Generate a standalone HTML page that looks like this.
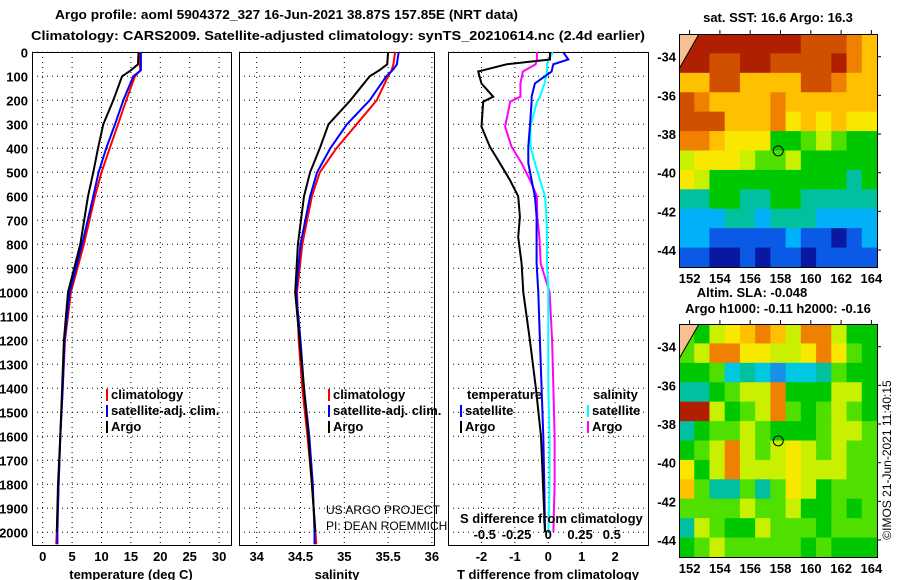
<!DOCTYPE html>
<html><head><meta charset="utf-8">
<style>
body{margin:0;background:#fff;}
svg{display:block;font-family:"Liberation Sans",sans-serif;}
.b{font-weight:bold;font-size:13px;}
</style></head>
<body>
<svg id="c" width="900" height="580" xmlns="http://www.w3.org/2000/svg">
<text class="b" x="55" y="19" font-size="14" textLength="463" lengthAdjust="spacingAndGlyphs">Argo profile: aoml 5904372_327 16-Jun-2021 38.87S 157.85E (NRT data)</text>
<text class="b" x="31" y="40" font-size="14" textLength="614" lengthAdjust="spacingAndGlyphs">Climatology: CARS2009. Satellite-adjusted climatology: synTS_20210614.nc (2.4d earlier)</text>
<text class="b" x="778" y="22" text-anchor="middle" font-size="12">sat. SST: 16.6 Argo: 16.3</text>
<text class="b" x="752" y="297" text-anchor="middle" font-size="12">Altim. SLA: -0.048</text>
<text class="b" x="778" y="313" text-anchor="middle" font-size="12">Argo h1000: -0.11 h2000: -0.16</text>
<text x="891" y="460" font-size="12" text-anchor="middle" transform="rotate(-90 891 460)">©IMOS 21-Jun-2021 11:40:15</text>
<text x="326" y="514" font-size="12">US ARGO PROJECT</text>
<text x="326" y="530" font-size="12">PI: DEAN ROEMMICH</text>
<g id="g"></g>
</svg>
<script>
// ---- data ----
const depthP = [0,50,75,100,200,300,400,500,600,800,1000,1200,1400,1600,1800,2000,2050];
const argoT = [16.3,16.2,15.0,13.5,12.0,10.3,9.4,8.6,7.7,6.4,4.3,3.6,3.3,3.0,2.6,2.4,2.4];
const satT  = [16.7,16.7,16.7,15.4,13.7,12.3,10.8,9.5,8.6,6.7,4.6,3.7,3.4,3.0,2.7,2.5,2.5];
const climT = [16.4,16.5,16.6,15.7,14.2,12.8,11.4,10.0,8.9,7.0,4.8,3.8,3.4,3.0,2.7,2.4,2.3];
const argoS = [35.50,35.49,35.40,35.29,35.07,34.82,34.72,34.61,34.54,34.47,34.44,34.49,34.54,34.59,34.63,34.67,34.67];
const satS  = [35.62,35.60,35.55,35.48,35.29,35.03,34.84,34.69,34.61,34.50,34.45,34.50,34.54,34.60,34.64,34.66,34.66];
const climS = [35.58,35.56,35.54,35.50,35.37,35.14,34.91,34.72,34.63,34.52,34.46,34.48,34.52,34.58,34.63,34.67,34.68];
const depthD = [0,30,50,80,130,185,206,310,393,462,532,600,685,770,880,1000,1200,1400,1600,1800,2000];
const argoDT = [0.05,0.05,-1.25,-2.1,-2.0,-1.65,-1.95,-2.0,-1.75,-1.45,-1.15,-0.9,-0.85,-0.9,-0.8,-0.75,-0.55,-0.37,-0.22,-0.16,-0.1];
const satDT  = [0.45,0.6,0.15,0.1,-0.4,-0.5,-0.5,-0.55,-0.6,-0.6,-0.5,-0.4,-0.35,-0.35,-0.35,-0.3,-0.25,-0.2,-0.15,-0.12,-0.1];
const argoDS = [-0.09,-0.09,-0.1,-0.2,-0.22,-0.22,-0.3,-0.34,-0.29,-0.21,-0.144,-0.09,-0.087,-0.07,-0.06,0.01,0.03,0.04,0.05,0.05,0.04];
const satDS  = [0.037,0.0,-0.01,-0.01,-0.03,-0.065,-0.09,-0.14,-0.14,-0.105,-0.065,-0.026,-0.015,-0.01,-0.01,0,0,0,0.01,0.01,0];
const depthTicks = [0,100,200,300,400,500,600,700,800,900,1000,1100,1200,1300,1400,1500,1600,1700,1800,1900,2000];
const tTicks = [0,5,10,15,20,25,30];
const sTicks = [34,34.5,35,35.5,36];
const dTicks = [-2,-1,0,1,2];
const dsTicks = [-0.5,-0.25,0,0.25,0.5];
const dsLabels = ["-0.5","-0.25","0","0.25","0.5"];
const lonTicks = [152,154,156,158,160,162,164];
const latTicks = [-34,-36,-38,-40,-42,-44];
const argoLon = 157.85, argoLat = -38.87;
const sstGrid = ["bbbbbbbbaaa98","bbaabbaaaab98","88aa8888aa988","a988889888888","aaa8889787877",
"9987774456544","6777655644444","7644444444434","3344334433333","2223323332222","2211111211012","1100101101111"];
const slaGrid = ["5467898699644","5699776679754","4452321223544","3345669444664","bb64569545654",
"3455654445665","4569656765655","7469666766655","8533535764555","5555655644545","3654465554555","4565555545444"];
const palette = {"0":"#0818a0","1":"#0a5ae6","2":"#00b0f8","3":"#00c0a0","4":"#00c800","5":"#50e000","6":"#c8f000","7":"#f8e800","8":"#ffc000","9":"#f08000","a":"#d05000","b":"#b02000"};
const slaPalette = Object.assign({}, palette, {"2":"#00c8e0","1":"#1890e8"});

// ---- helpers ----
const NS="http://www.w3.org/2000/svg", G=document.getElementById('g');
function mk(tag,attrs,parent){const e=document.createElementNS(NS,tag);for(const k in attrs)e.setAttribute(k,attrs[k]);(parent||G).appendChild(e);return e;}
const Y0=52.3, YS=0.24, TOP=52, BOT=545;
const yD = d => Y0 + d*YS;
const panels = [
 {name:'temperature',x0:32,x1:231,f:v=>42.7+v*5.88,ticks:tTicks,lab:tTicks.map(String),title:'temperature (deg C)',tx:131},
 {name:'salinity',x0:239,x1:434,f:v=>256.7+(v-34)*87.6,ticks:sTicks,lab:sTicks.map(String),title:'salinity',tx:337},
 {name:'difference',x0:448,x1:648,f:v=>548.3+v*33.4,ticks:dTicks,lab:dTicks.map(String),title:'T difference from climatology',tx:548}
];
const fS = v=>548.3+v*127;

panels.forEach(p=>{
 const g=mk('g',{});
 
 
 p.ticks.forEach((t,i)=>{
  const l=mk('line',{x1:p.f(t),x2:p.f(t),y1:TOP,y2:BOT,stroke:'#000','stroke-width':1,'stroke-dasharray':'1 4'},g);
  
  
  const tx=mk('text',{x:p.f(t),y:561,'text-anchor':'middle',class:'b'},g);tx.textContent=p.lab[i];
  
  
 });
 depthTicks.forEach(d=>{
  const l=mk('line',{x1:p.x0,x2:p.x1,y1:yD(d),y2:yD(d),stroke:'#000','stroke-width':1,'stroke-dasharray':'1 4'},g);
  
  
 });
 const r=mk('rect',{x:p.x0+0.5,y:TOP+0.5,width:p.x1-p.x0,height:BOT-TOP,fill:'none',stroke:'#000'},g);
 
 
 const at=mk('text',{x:p.tx,y:579,'text-anchor':'middle',class:'b'},g);at.textContent=p.title;
 
 
});
depthTicks.forEach(d=>{
 const t=mk('text',{x:28,y:yD(d)+5,'text-anchor':'end',class:'b'});t.textContent=String(d);
 
 
});

function line(vals,depths,fx,color,name){
 const pts=vals.map((v,i)=>fx(v).toFixed(1)+','+yD(depths[i]).toFixed(1)).join(' ');
 const l=mk('polyline',{points:pts,fill:'none',stroke:color,'stroke-width':2,'stroke-linejoin':'miter'});
 
 
}
line(climT,depthP,panels[0].f,'#ff0000','temp-climatology-line');
line(satT,depthP,panels[0].f,'#0000ff','temp-satellite-line');
line(argoT.slice(0,16),depthP.slice(0,16),panels[0].f,'#000','temp-argo-line');
line(climS,depthP,panels[1].f,'#ff0000','sal-climatology-line');
line(satS,depthP,panels[1].f,'#0000ff','sal-satellite-line');
line(argoS.slice(0,16),depthP.slice(0,16),panels[1].f,'#000','sal-argo-line');
line(argoDS,depthD,fS,'#ff00ff','sdiff-argo-line');
line(satDS,depthD,fS,'#00ffff','sdiff-satellite-line');
line(satDT,depthD,panels[2].f,'#0000ff','tdiff-satellite-line');
line(argoDT,depthD,panels[2].f,'#000','tdiff-argo-line');

function legend(x,y,color,label,name){
 const b=mk('rect',{x:x,y:y-10,width:2,height:12,fill:color});
 
 
 const t=mk('text',{x:x+5,y:y,class:'b'});t.textContent=label;
 
 
}
legend(106,399,'#ff0000','climatology','legend-temp-climatology');
legend(106,415,'#0000ff','satellite-adj. clim.','legend-temp-satellite');
legend(106,431,'#000','Argo','legend-temp-argo');
legend(328,399,'#ff0000','climatology','legend-sal-climatology');
legend(328,415,'#0000ff','satellite-adj. clim.','legend-sal-satellite');
legend(328,431,'#000','Argo','legend-sal-argo');
let tt=mk('text',{x:467,y:399,class:'b'});tt.textContent='temperature';


tt=mk('text',{x:593,y:399,class:'b'});tt.textContent='salinity';


legend(460,415,'#0000ff','satellite','legend-tdiff-satellite');
legend(460,431,'#000','Argo','legend-tdiff-argo');
legend(587,415,'#00ffff','satellite','legend-sdiff-satellite');
legend(587,431,'#ff00ff','Argo','legend-sdiff-argo');
tt=mk('text',{x:460,y:523,class:'b'});tt.textContent='S difference from climatology';


dsTicks.forEach((v,i)=>{
 const t=mk('text',{x:fS(v),y:539,'text-anchor':'middle',class:'b'});t.textContent=dsLabels[i];
 
 
});

// ---- maps ----
const MX0=679, MX1=877, LON0=151.3, LONS=15.15;
const mx = lon => MX0+(lon-LON0)*LONS;
function map(top,grid,pal,name){
 const g=mk('g',{});
 
 
 const my = lat => top+22.7+(-34-lat)*19.33;
 const H=233, rows=grid.length, cols=grid[0].length, cw=(MX1-MX0)/cols, rh=H/rows;
 grid.forEach((row,r)=>{ for(let c=0;c<cols;c++){
  const cell=mk('rect',{x:MX0+c*cw,y:top+r*rh,width:cw+0.6,height:rh+0.6,fill:pal[row[c]]},g);
  
  
 }});
 const cp=mk('path',{d:`M${MX0},${top} L${MX0+20},${top} L${MX0},${top+35} Z`,fill:'#f8c090'},g);
 
 
 const cl=mk('line',{x1:MX0+20,y1:top,x2:MX0,y2:top+35,stroke:'#000'},g);
 
 
 const fr=mk('rect',{x:MX0+0.5,y:top+0.5,width:MX1-MX0,height:H,fill:'none',stroke:'#000'},g);
 
 
 lonTicks.forEach(lon=>{
  mk('line',{x1:mx(lon),x2:mx(lon),y1:top-4,y2:top,stroke:'#000'},g);
  const t=mk('text',{x:mx(lon),y:top+H+16,'text-anchor':'middle',class:'b'},g);t.textContent=String(lon);
  
  
 });
 latTicks.forEach(lat=>{
  mk('line',{x1:MX1,x2:MX1+4,y1:my(lat),y2:my(lat),stroke:'#000'},g);
  const t=mk('text',{x:676,y:my(lat)+5,'text-anchor':'end',class:'b'},g);t.textContent=String(lat);
  
  
 });
 const c=mk('circle',{cx:mx(argoLon),cy:my(argoLat),r:5,fill:'none',stroke:'#000'},g);
 
 
}
map(34,sstGrid,palette,'sst-map');
map(324,slaGrid,slaPalette,'sla-map');
</script>
</body></html>
